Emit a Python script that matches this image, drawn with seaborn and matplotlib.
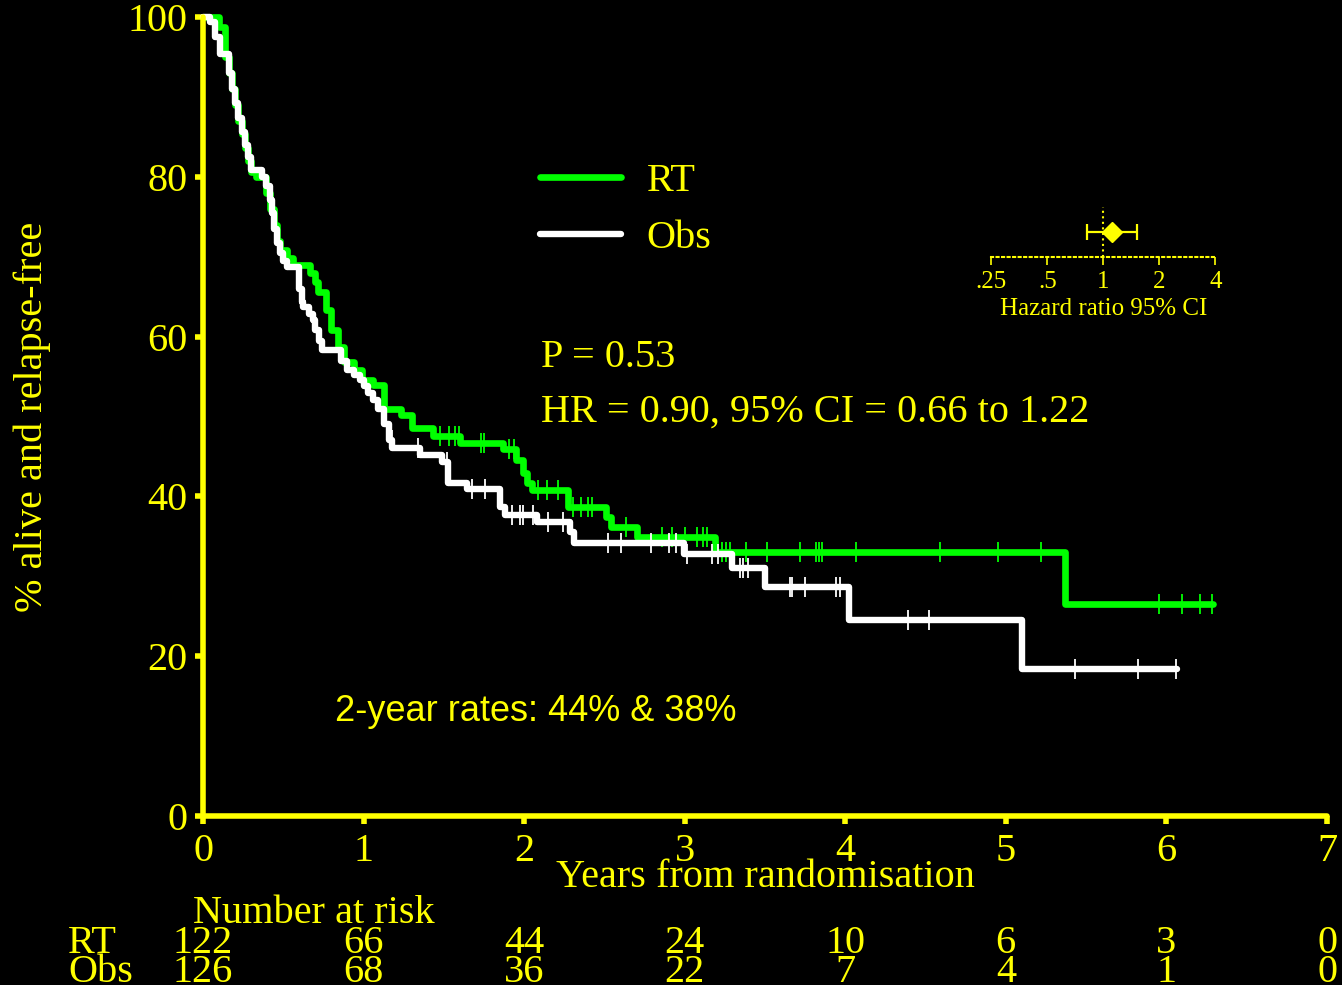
import numpy as np
import matplotlib
matplotlib.use('Agg')
import matplotlib.pyplot as plt
import matplotlib.transforms as mtransforms
import seaborn as sns

# Kaplan-Meier steps (years, % alive and relapse-free)
rt_time = [0, 0.100, 0.137, 0.16, 0.18, 0.20, 0.22, 0.24, 0.26, 0.28,
           0.30, 0.33, 0.39, 0.42, 0.44, 0.46, 0.48, 0.52, 0.56, 0.665,
           0.70, 0.715, 0.765, 0.80, 0.84, 0.88, 0.94, 0.99, 1.06, 1.13,
           1.23, 1.30, 1.43, 1.60, 1.87, 1.95, 1.99, 2.02, 2.05, 2.27,
           2.51, 2.54, 2.70, 3.19, 5.37, 6.29]
rt_surv = [100, 98.7, 95.0, 93.0, 91.0, 89.0, 87.0, 85.3, 83.6, 82.0,
           80.6, 80.0, 78.0, 76.0, 74.0, 72.0, 70.8, 69.8, 69.0, 68.0,
           66.8, 65.6, 63.3, 60.8, 58.7, 56.8, 55.8, 54.6, 53.9, 51.0,
           50.2, 48.5, 47.6, 46.7, 45.9, 44.5, 42.9, 41.7, 40.8, 38.7,
           37.4, 36.2, 34.9, 33.0, 26.5, 26.5]

obs_time = [0, 0.044, 0.075, 0.106, 0.16, 0.18, 0.20, 0.22, 0.24, 0.26,
            0.28, 0.30, 0.367, 0.39, 0.417, 0.43, 0.445, 0.461, 0.48, 0.50,
            0.523, 0.60, 0.615, 0.623, 0.66, 0.685, 0.70, 0.72, 0.741, 0.86,
            0.897, 0.94, 0.978, 1.00, 1.03, 1.059, 1.09, 1.13, 1.16, 1.18,
            1.351, 1.488, 1.526, 1.644, 1.849, 1.88, 2.08, 2.285, 2.31, 2.995,
            3.292, 3.50, 4.02, 5.098, 6.063]
obs_surv = [100, 99.4, 97.5, 95.4, 93.0, 91.0, 89.2, 87.3, 85.6, 84.0,
            82.5, 80.9, 80.0, 78.8, 77.1, 75.5, 73.5, 71.7, 70.5, 69.5,
            68.7, 66.0, 64.3, 63.7, 62.8, 62.1, 60.8, 59.5, 58.3, 57.0,
            55.8, 55.2, 54.6, 53.8, 53.0, 52.1, 51.0, 49.0, 47.1, 46.0,
            45.2, 44.3, 41.7, 40.9, 38.7, 37.7, 36.8, 35.6, 34.2, 32.8,
            31.0, 28.6, 24.5, 18.4, 18.4]

# censored observations (years)
rt_censor = [1.476, 1.532, 1.569, 1.594, 1.729, 1.750, 1.905, 1.937, 2.086, 2.142,
             2.210, 2.306, 2.352, 2.399, 2.424, 2.634, 2.860, 2.922, 3.001, 3.074,
             3.112, 3.136, 3.230, 3.255, 3.281, 3.381, 3.514, 3.717, 3.817, 3.837,
             3.854, 4.066, 4.589, 4.950, 5.216, 5.953, 6.094, 6.208, 6.285]
obs_censor = [1.177, 1.339, 1.519, 1.675, 1.756, 1.924, 1.974, 1.993, 2.055, 2.148,
              2.242, 2.524, 2.603, 2.790, 2.902, 2.943, 3.012, 3.171, 3.209, 3.344,
              3.364, 3.395, 3.655, 3.669, 3.748, 3.940, 3.966, 4.388, 4.521, 5.430,
              5.820, 6.057]

risk_years = [0, 1, 2, 3, 4, 5, 6, 7]
rt_at_risk = [122, 66, 44, 24, 10, 6, 3, 0]
obs_at_risk = [126, 68, 36, 22, 7, 4, 1, 0]

# forest inset (Obs vs RT)
hr_point = 1.11
hr_low = 0.82
hr_high = 1.515
hr_ticks = [0.25, 0.5, 1, 2, 4]
hr_tick_labels = ['.25', '.5', '1', '2', '4']

YELLOW = '#FFFF00'
GREEN = '#00FF00'
WHITE = '#FFFFFF'

sns.set_style('ticks', rc={
    'figure.facecolor': 'black',
    'axes.facecolor': 'black',
    'savefig.facecolor': 'black',
    'axes.edgecolor': YELLOW,
    'axes.labelcolor': YELLOW,
    'text.color': YELLOW,
    'xtick.color': YELLOW,
    'ytick.color': YELLOW,
})
plt.rcParams['font.family'] = ['Liberation Serif', 'DejaVu Serif']


def step_value(times, surv, t):
    idx = np.searchsorted(times, t, side='right') - 1
    return np.asarray(surv)[idx]


fig = plt.figure(figsize=(13.42, 9.85), dpi=100)
ax = fig.add_axes([0.15127, 0.17157, 0.83756, 0.81117])

# curves
sns.lineplot(x=rt_time, y=rt_surv, drawstyle='steps-post', estimator=None, sort=False,
             color=GREEN, lw=4.8, solid_capstyle='round', solid_joinstyle='round',
             clip_on=False, label='RT', ax=ax)
ax.plot(rt_censor, step_value(rt_time, rt_surv, rt_censor), ls='none', marker='|',
        ms=14.5, mew=1.3, color=GREEN, clip_on=False)
sns.lineplot(x=obs_time, y=obs_surv, drawstyle='steps-post', estimator=None, sort=False,
             color=WHITE, lw=4.6, solid_capstyle='round', solid_joinstyle='round',
             clip_on=False, label='Obs', ax=ax)
ax.plot(obs_censor, step_value(obs_time, obs_surv, obs_censor), ls='none', marker='|',
        ms=14.5, mew=1.3, color=WHITE, clip_on=False)

ax.set_xlim(0, 7)
ax.set_ylim(0, 100)
ax.set_xticks(risk_years)
ax.set_yticks([0, 20, 40, 60, 80, 100])
for side in ['top', 'right']:
    ax.spines[side].set_visible(False)
for side in ['left', 'bottom']:
    ax.spines[side].set_linewidth(4)
    ax.spines[side].set_color(YELLOW)
    ax.spines[side].set_capstyle('round')
ax.tick_params(length=6, width=4, labelsize=29, direction='out', colors=YELLOW)
ax.tick_params(axis='x', pad=6)
ax.tick_params(axis='y', pad=5)

ax.set_xlabel('Years from randomisation', fontsize=29, va='baseline')
ax.xaxis.set_label_coords(0.5, (816 - 887) / 799)
ax.set_ylabel('% alive and relapse-free', fontsize=29, va='center')
ax.yaxis.set_label_coords((32 - 203) / 1124, 0.5)

ax.legend(loc='upper left', bbox_to_anchor=(0.2998, 0.8173), frameon=False,
          borderpad=0, borderaxespad=0, handlelength=2.0, handletextpad=0.65,
          labelspacing=0.48, fontsize=29, labelcolor=YELLOW)

ax.text(2.105, 56.2, 'P = 0.53', fontsize=29, va='baseline')
ax.text(2.105, 49.3, 'HR = 0.90, 95% CI = 0.66 to 1.22', fontsize=29, va='baseline')
ax.text(0.822, 11.9, '2-year rates: 44% & 38%', fontsize=26, va='baseline',
        family=['Liberation Sans', 'DejaVu Sans'])

# number at risk table
trans = mtransforms.blended_transform_factory(ax.transData, fig.transFigure)
fig.text(193 / 1342, 1 - 923 / 985, 'Number at risk', fontsize=29, va='baseline')
fig.text(68 / 1342, 1 - 953 / 985, 'RT', fontsize=29, va='baseline')
fig.text(68 / 1342, 1 - 982 / 985, 'Obs', fontsize=29, va='baseline')
for yr, n_rt, n_obs in zip(risk_years, rt_at_risk, obs_at_risk):
    ax.text(yr, 1 - 953 / 985, str(n_rt), transform=trans, fontsize=29,
            ha='center', va='baseline', clip_on=False)
    ax.text(yr, 1 - 982 / 985, str(n_obs), transform=trans, fontsize=29,
            ha='center', va='baseline', clip_on=False)

# hazard ratio inset
ax_in = fig.add_axes([0.73867, 0.73909, 0.16692, 0.05279])
ax_in.set_facecolor('none')
ax_in.set_xscale('log', base=2)
ax_in.set_xlim(0.25, 4)
ax_in.set_ylim(0, 1)
for side in ['top', 'right', 'left']:
    ax_in.spines[side].set_visible(False)
ax_in.spines['bottom'].set_linestyle(':')
ax_in.spines['bottom'].set_linewidth(1.5)
ax_in.spines['bottom'].set_color(YELLOW)
ax_in.axvline(1, ymin=0, ymax=0.967, ls=':', lw=1.5, color=YELLOW)
ax_in.errorbar([hr_point], [0.475], xerr=[[hr_point - hr_low], [hr_high - hr_point]],
               fmt='D', ms=10, color=YELLOW, ecolor=YELLOW, elinewidth=1.6,
               capsize=5.5, capthick=1.6, clip_on=False)
ax_in.set_xticks(hr_ticks)
ax_in.set_xticklabels(hr_tick_labels)
ax_in.xaxis.set_minor_locator(matplotlib.ticker.NullLocator())
ax_in.set_yticks([])
ax_in.tick_params(axis='x', length=6, width=1.2, pad=4, labelsize=18, colors=YELLOW)
ax_in.set_xlabel('Hazard ratio 95% CI', fontsize=18, va='baseline')
ax_in.xaxis.set_label_coords(0.5, (257 - 315) / 52)

fig.savefig('out.png', dpi=100, facecolor='black')
